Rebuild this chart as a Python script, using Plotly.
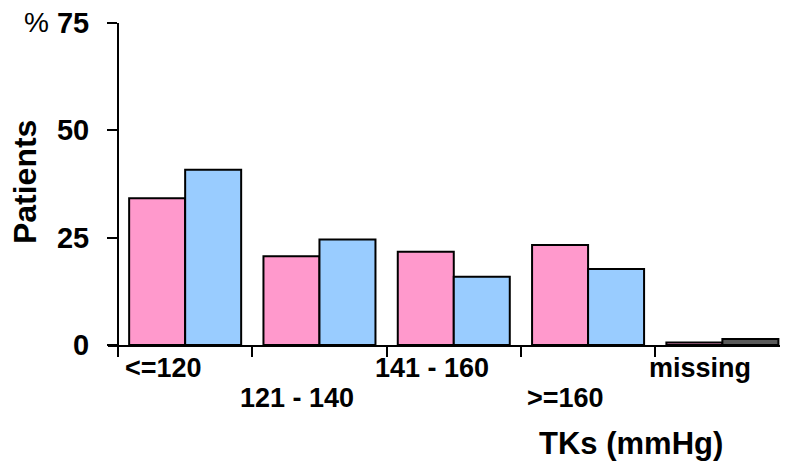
import plotly.graph_objects as go

categories = ["<=120", "121 - 140", "141 - 160", ">=160", "missing"]
series_a = [34.2, 20.7, 21.7, 23.3, 0.6]
series_b = [40.8, 24.6, 15.9, 17.7, 1.4]
y_ticks = [0, 25, 50, 75]
y_label = "Patients"
unit_label = "%"
x_title = "TKs (mmHg)"

FONT = "Liberation Sans, Arial, sans-serif"
pos = list(range(len(categories)))

fig = go.Figure()
fig.add_trace(go.Bar(x=pos, y=series_a, name="A",
                     marker=dict(color="#FF99CC", line=dict(color="black", width=2))))
fig.add_trace(go.Bar(x=pos, y=series_b, name="B",
                     marker=dict(color=["#99CCFF"] * 4 + ["#595959"],
                                 line=dict(color="black", width=2))))

annotations = []
for i, c in enumerate(categories):
    row = i % 2
    annotations.append(dict(text=c, x=i - 0.165, xref="x", y=0, yref="paper",
                            xanchor="center", yanchor="middle",
                            yshift=-23 if row == 0 else -53, showarrow=False,
                            font=dict(family=FONT, size=27, color="black", weight="bold")))
annotations.append(dict(text=unit_label, x=-0.107, xref="paper", y=1.003, yref="paper",
                        xanchor="center", yanchor="middle", showarrow=False,
                        font=dict(family=FONT, size=28, color="black")))
annotations.append(dict(text=y_label, x=-0.1235, xref="paper", y=0.506, yref="paper",
                        xanchor="center", yanchor="middle", textangle=-90, showarrow=False,
                        font=dict(family=FONT, size=32, color="black", weight="bold")))
annotations.append(dict(text=x_title, x=0.779, xref="paper", y=-0.307, yref="paper",
                        xanchor="center", yanchor="middle", showarrow=False,
                        font=dict(family=FONT, size=31, color="black", weight="bold")))

fig.update_layout(
    width=786, height=466,
    margin=dict(l=108, r=6, t=23, b=121),
    plot_bgcolor="white", paper_bgcolor="white",
    barmode="group", bargap=0.166, bargroupgap=0,
    showlegend=False,
    annotations=annotations,
    xaxis=dict(range=[-0.5745, 4.429], tickvals=[-0.5, 0.5, 1.5, 2.5, 3.5],
               ticktext=[""] * 5, ticks="outside", ticklen=10, tickwidth=2,
               tickcolor="black", showline=True, linecolor="black", linewidth=2,
               showgrid=False, zeroline=False),
    yaxis=dict(range=[0, 75], tickvals=y_ticks, ticks="outside", ticklen=10,
               tickwidth=2, tickcolor="black", showline=True, linecolor="black",
               linewidth=2, showgrid=False, zeroline=False,
               anchor="free", position=10 / 672, ticklabelstandoff=12,
               tickfont=dict(family=FONT, size=29, color="black", weight="bold")),
)

fig.write_html("out.html", config={"displayModeBar": False},
               post_script="document.body.style.margin='0';")
